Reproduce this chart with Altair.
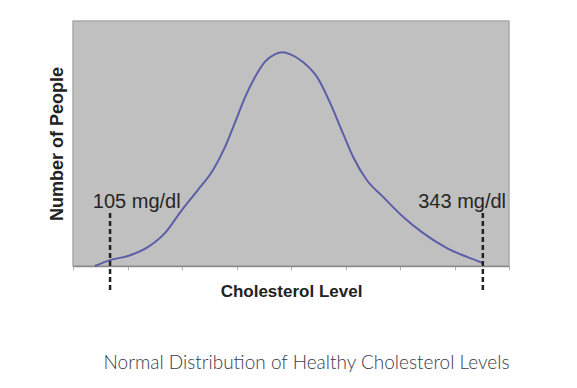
import altair as alt
import pandas as pd

# Bell curve (x in tick units 0..8, y in % of plot height)
curve_x = [0.40, 0.68, 1.01, 1.38, 1.69, 2.00, 2.29, 2.57, 2.79, 2.97, 3.16, 3.34,
           3.52, 3.71, 3.85, 3.98, 4.22, 4.48, 4.72, 4.95, 5.14, 5.39, 5.69, 6.06,
           6.42, 6.86, 7.23, 7.52]
curve_y = [0.0, 2.4, 4.1, 7.8, 13.5, 22.9, 31.0, 39.2, 48.6, 58.4, 69.0, 77.1,
           83.3, 86.5, 87.2, 86.5, 83.3, 77.1, 66.5, 54.3, 44.5, 35.1, 28.2, 20.0,
           13.5, 7.3, 3.7, 1.2]

marker_x = [0.68, 7.52]
marker_label = ["105 mg/dl", "343 mg/dl"]
marker_label_x = [1.17, 7.14]
marker_top = [21.6, 21.6]
marker_bottom = [-9.8, -9.8]
label_y = [23.5, 23.5]

tick_values = [0, 1, 2, 3, 4, 5, 6, 7, 8]

curve = pd.DataFrame({"x": curve_x, "y": curve_y})
markers = pd.DataFrame({"x": marker_x, "top": marker_top, "bottom": marker_bottom,
                        "lx": marker_label_x, "ly": label_y, "label": marker_label})

xscale = alt.Scale(domain=[0, 8], nice=False, zero=False)
yscale = alt.Scale(domain=[0, 100], nice=False)

line = alt.Chart(curve).mark_line(color="#5c5ea8", strokeWidth=2, interpolate="monotone").encode(
    x=alt.X("x:Q", scale=xscale,
            axis=alt.Axis(title="Cholesterol Level", values=tick_values, labels=False,
                          grid=False, domain=True, domainColor="#8a8a8a", domainWidth=1.5,
                          ticks=True, tickSize=4, tickColor="#b5b5b5", tickWidth=1,
                          titleFont="Liberation Sans", titleFontSize=17, titleFontWeight="bold",
                          titleColor="#222222", titlePadding=13)),
    y=alt.Y("y:Q", scale=yscale,
            axis=alt.Axis(title="Number of People", labels=False, ticks=False, grid=False,
                          domain=False, titleFont="Liberation Sans", titleFontSize=18,
                          titleFontWeight="bold", titleColor="#222222", titlePadding=7)),
)

rules = alt.Chart(markers).mark_rule(color="#222222", strokeWidth=2.5, strokeDash=[5, 3]).encode(
    x="x:Q", y="top:Q", y2="bottom:Q"
)

labels = alt.Chart(markers).mark_text(font="Liberation Sans", fontSize=20, color="#262626",
                                      align="center", baseline="alphabetic").encode(
    x="lx:Q", y="ly:Q", text="label:N"
)

chart = alt.layer(line, rules, labels).properties(
    width=436,
    height=245,
    title=alt.Title("Normal Distribution of Healthy Cholesterol Levels", orient="bottom",
                    anchor="end", font="Lato", fontSize=19, fontWeight=300,
                    color="#3a3a48", offset=54),
    padding={"left": 40, "top": 13, "right": 40, "bottom": 20},
).configure(background="white").configure_view(
    fill="#c0c0c0", stroke="#a9a9a9", strokeWidth=1.5
)

chart.save("out.html", embed_options={"renderer": "svg", "actions": False})
